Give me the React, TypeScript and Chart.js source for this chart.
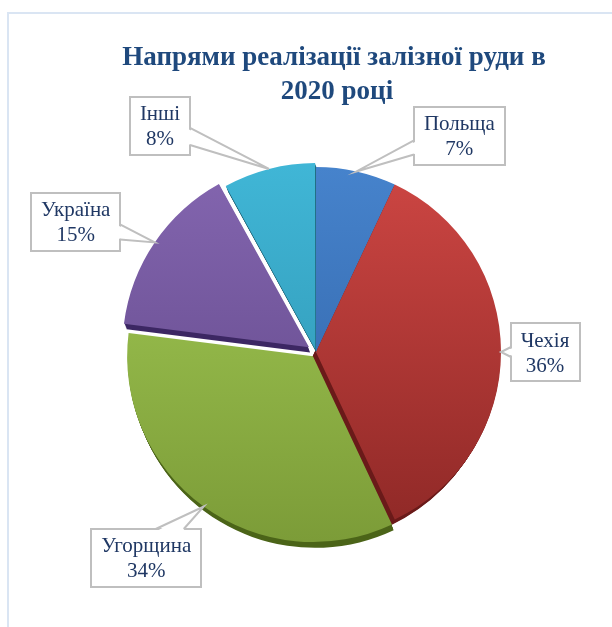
import React, { useEffect, useRef } from "react";
import { Chart, registerables } from "chart.js";

Chart.register(...registerables);

// ---------- data ----------
const categories = ["Польща", "Чехія", "Угорщина", "Україна", "Інші"];
const shares = [7, 36, 34, 15, 8];
const percentLabels = ["7%", "36%", "34%", "15%", "8%"];
const titleLines = ["Напрями реалізації залізної руди в", "2020 році"];

// ---------- styles ----------
const lightColors = ["#4683CC", "#CD4643", "#A3CB55", "#8466B0", "#40B6D6"];
const darkColors = ["#2E5FA2", "#8E2826", "#7C9C38", "#5E4585", "#2C8FAC"];
const sideColors = ["#2B4F80", "#6A1A19", "#4B6418", "#3C2763", "#1C6377"];
const sideDx = [0.4, -0.7, 0.4, 0.4, 0.4];
const explodePx = [0, 0, 6, 10, 4];
const calloutOffsets = [
  [103, -35.5],
  [44, 0],
  [-57.5, 51],
  [-79, -20.5],
  [-109, -43],
];
const calloutSides = ["left", "left", "top", "right", "right"];
const calloutBase = [
  [4.5, 18.5],
  [-5, 5],
  [9.5, 37.5],
  [2.5, 17.5],
  [2, 19],
];
const RADIUS = 185;
const LABEL_FONT = "21px 'Liberation Serif', 'Times New Roman', serif";
const TITLE_FONT = "bold 27px 'Liberation Serif', 'Times New Roman', serif";
const TEXT_COLOR = "#203864";
const TITLE_COLOR = "#1F497D";

const total = shares.reduce((a, b) => a + b, 0);
const circumferences = shares.map((v) => (v / total) * Math.PI * 2);
const shiftFactor = (circ: number) => 1 + (1 - Math.sin(Math.min(Math.PI, circ)));
// Chart.js draws offset/4 * (1 + fix)
const offsetOptions = explodePx.map((px, i) => (4 * px) / shiftFactor(circumferences[i]));

function sliceShift(i: number) {
  return explodePx[i];
}

const shadowPlugin = {
  id: "shadow3d",
  beforeDatasetsDraw(chart: any) {
    const ctx = chart.ctx;
    const meta = chart.getDatasetMeta(0);
    meta.data.forEach((el: any, i: number) => {
      const mid = (el.startAngle + el.endAngle) / 2;
      const s = sliceShift(i);
      const cx = el.x + Math.cos(mid) * s;
      const cy = el.y + Math.sin(mid) * s;
      ctx.save();
      ctx.fillStyle = sideColors[i];
      for (let k = 1; k <= 6; k++) {
        const dx = k * sideDx[i];
        const dy = k;
        ctx.beginPath();
        ctx.moveTo(cx + dx, cy + dy);
        ctx.arc(cx + dx, cy + dy, el.outerRadius, el.startAngle, el.endAngle);
        ctx.closePath();
        ctx.fill();
      }
      ctx.restore();
    });
  },
};

const labelPlugin = {
  id: "callouts",
  afterDatasetsDraw(chart: any) {
    const ctx = chart.ctx;
    const meta = chart.getDatasetMeta(0);
    meta.data.forEach((el: any, i: number) => {
      const mid = (el.startAngle + el.endAngle) / 2;
      const r = el.outerRadius + sliceShift(i);
      const tx = el.x + Math.cos(mid) * r;
      const ty = el.y + Math.sin(mid) * r;
      ctx.save();
      ctx.font = LABEL_FONT;
      const w1 = ctx.measureText(categories[i]).width;
      const w2 = ctx.measureText(percentLabels[i]).width;
      const bw = Math.round(Math.max(w1, w2) + 20);
      const bh = 58;
      const bcx = tx + calloutOffsets[i][0];
      const bcy = ty + calloutOffsets[i][1];
      const left = Math.round(bcx - bw / 2);
      const top = Math.round(bcy - bh / 2);
      // box
      ctx.fillStyle = "#FFFFFF";
      ctx.fillRect(left, top, bw, bh);
      ctx.strokeStyle = "#BFBFBF";
      ctx.lineWidth = 2;
      ctx.strokeRect(left, top, bw, bh);
      // wedge
      const side = calloutSides[i];
      const [b0, b1] = calloutBase[i];
      let p0: number[], p1: number[], q0: number[], q1: number[];
      if (side === "left") {
        p0 = [left, bcy + b0];
        p1 = [left, bcy + b1];
        q0 = [left + 2, bcy + b0 + 1];
        q1 = [left + 2, bcy + b1 - 1];
      } else if (side === "right") {
        p0 = [left + bw, bcy + b0];
        p1 = [left + bw, bcy + b1];
        q0 = [left + bw - 2, bcy + b0 + 1];
        q1 = [left + bw - 2, bcy + b1 - 1];
      } else {
        p0 = [bcx + b0, top];
        p1 = [bcx + b1, top];
        q0 = [bcx + b0 + 1, top + 2];
        q1 = [bcx + b1 - 1, top + 2];
      }
      ctx.fillStyle = "#FFFFFF";
      ctx.beginPath();
      ctx.moveTo(q0[0], q0[1]);
      ctx.lineTo(tx, ty);
      ctx.lineTo(q1[0], q1[1]);
      ctx.closePath();
      ctx.fill();
      ctx.beginPath();
      ctx.moveTo(p0[0], p0[1]);
      ctx.lineTo(tx, ty);
      ctx.lineTo(p1[0], p1[1]);
      ctx.stroke();
      // text
      ctx.fillStyle = TEXT_COLOR;
      ctx.textAlign = "center";
      ctx.textBaseline = "middle";
      ctx.fillText(categories[i], bcx, bcy - 11);
      ctx.fillText(percentLabels[i], bcx, bcy + 14);
      ctx.restore();
    });
  },
};

const titlePlugin = {
  id: "titleText",
  afterDraw(chart: any) {
    const ctx = chart.ctx;
    ctx.save();
    ctx.font = TITLE_FONT;
    ctx.fillStyle = TITLE_COLOR;
    ctx.textAlign = "center";
    ctx.textBaseline = "alphabetic";
    ctx.fillText(titleLines[0], 334, 65);
    ctx.fillText(titleLines[1], 337, 99);
    ctx.restore();
  },
};

export default function App() {
  const canvasRef = useRef<HTMLCanvasElement | null>(null);

  useEffect(() => {
    if (!canvasRef.current) return;
    const chart = new Chart(canvasRef.current, {
      type: "pie",
      data: {
        labels: categories,
        datasets: [
          {
            data: shares,
            radius: RADIUS,
            offset: offsetOptions,
            borderWidth: 0,
            backgroundColor: (c: any) => {
              const i = c.dataIndex ?? 0;
              const chart = c.chart;
              const area = chart.chartArea;
              if (!area) return lightColors[i];
              const cy = (area.top + area.bottom) / 2;
              const g = chart.ctx.createLinearGradient(0, cy - RADIUS, 0, cy + RADIUS);
              g.addColorStop(0, lightColors[i]);
              g.addColorStop(1, darkColors[i]);
              return g;
            },
          } as any,
        ],
      },
      options: {
        responsive: false,
        animation: false,
        events: [],
        layout: { padding: { left: 20, right: 0, top: 77, bottom: 0 } },
        plugins: {
          legend: { display: false },
          tooltip: { enabled: false },
          title: { display: false },
        },
      },
      plugins: [shadowPlugin, labelPlugin, titlePlugin],
    });
    return () => chart.destroy();
  }, []);

  return (
    <div
      style={{
        position: "fixed",
        left: 0,
        top: 0,
        width: 612,
        height: 627,
        background: "#FFFFFF",
        overflow: "hidden",
      }}
    >
      <div
        style={{
          position: "absolute",
          left: 7,
          top: 12,
          width: 640,
          height: 660,
          border: "2px solid #DAE5F3",
          boxSizing: "border-box",
        }}
      />
      <canvas
        ref={canvasRef}
        width={612}
        height={627}
        style={{ position: "absolute", left: 0, top: 0, width: 612, height: 627 }}
      />
    </div>
  );
}
